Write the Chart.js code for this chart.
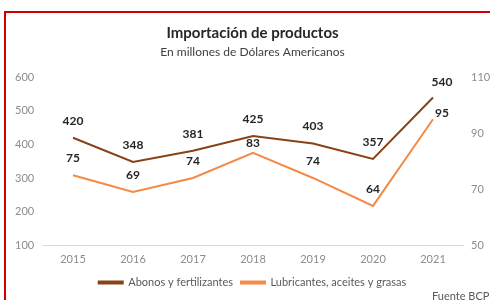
<!DOCTYPE html>
<html>
<head>
<meta charset="utf-8">
<script src="https://cdn.jsdelivr.net/npm/chart.js@4.4.0/dist/chart.umd.min.js"></script>
<style>
  body{margin:0;background:#fff;}
  #wrap{position:absolute;left:0;top:0;width:490px;height:300px;}
  #frame{position:absolute;left:4px;top:11px;width:500px;height:300px;border:2px solid #d00000;box-sizing:border-box;pointer-events:none;}
  #src{position:absolute;left:432px;top:289px;font:11px Lato,sans-serif;color:#595959;white-space:nowrap;}
</style>
</head>
<body>
<div id="wrap"><canvas id="myChart" width="490" height="300"></canvas></div>
<div id="frame"></div>
<div id="src">Fuente BCP</div>
<script>
var years=["2015","2016","2017","2018","2019","2020","2021"];
var abonos=[420,348,381,425,403,357,540];
var lubricantes=[75,69,74,83,74,64,95];
var leftTicks=[100,200,300,400,500,600];
var rightTicks=[50,70,90,110];

// etiquetas de valores encima de cada punto
var valueLabels={
    id:"valueLabels",
    afterDatasetsDraw:function(chart){
        var ctx=chart.ctx;
        ctx.save();
        ctx.font="bold 12px Lato, sans-serif";
        ctx.fillStyle="#262626";
        ctx.textAlign="center";
        ctx.textBaseline="middle";
        var last=years.length-1;
        chart.data.datasets.forEach(function(ds,i){
            var meta=chart.getDatasetMeta(i);
            meta.data.forEach(function(pt,j){
                var x=pt.x, y=pt.y-17;
                if(j==last){
                    x=pt.x+9;
                    y=(i==0)?pt.y-15:pt.y-6;
                }
                if(i==1 && j==3) y=pt.y-10; // 83 queda bajo la otra linea
                ctx.fillText(ds.data[j],x,y);
            });
        });
        ctx.restore();
    }
};

var ctx=document.getElementById("myChart").getContext("2d");
var chart=new Chart(ctx,{
    type:"line",
    data:{
        labels:years,
        datasets:[{
            label:"Abonos y fertilizantes",
            data:abonos,
            yAxisID:"y",
            borderColor:"#874316",
            backgroundColor:"#874316",
            borderWidth:2,
            pointRadius:0,
            tension:0
        },{
            label:"Lubricantes, aceites y grasas",
            data:lubricantes,
            yAxisID:"y1",
            borderColor:"#f48a45",
            backgroundColor:"#f48a45",
            borderWidth:2,
            pointRadius:0,
            tension:0
        }]
    },
    options:{
        responsive:false,
        animation:false,
        layout:{padding:{top:24,left:15,right:0,bottom:2}},
        plugins:{
            title:{
                display:true,
                text:"Importación de productos",
                color:"#262626",
                font:{family:"Lato",size:15,weight:"bold"},
                padding:{top:0,bottom:3}
            },
            subtitle:{
                display:true,
                text:"En millones de Dólares Americanos",
                color:"#404040",
                font:{family:"Lato",size:12},
                padding:{top:0,bottom:18}
            },
            legend:{
                position:"bottom",
                labels:{
                    boxWidth:24,
                    boxHeight:2,
                    color:"#595959",
                    font:{family:"Lato",size:11},
                    padding:8
                }
            },
            tooltip:{enabled:false}
        },
        scales:{
            x:{
                offset:true,
                afterFit:function(ax){ax.height=24;},
                grid:{display:false,tickLength:0},
                border:{display:true,color:"#d9d9d9"},
                ticks:{color:"#8c8c8c",font:{family:"Lato",size:11},padding:8}
            },
            y:{
                position:"left",
                min:100,max:600,
                afterBuildTicks:function(ax){ax.ticks=leftTicks.map(function(v){return {value:v};});},
                afterFit:function(ax){ax.width=28;},
                grid:{display:false},
                border:{display:false},
                ticks:{color:"#8c8c8c",font:{family:"Lato",size:11},padding:10,crossAlign:"far"}
            },
            y1:{
                position:"right",
                min:50,max:110,
                afterBuildTicks:function(ax){ax.ticks=rightTicks.map(function(v){return {value:v};});},
                afterFit:function(ax){ax.width=27;},
                grid:{display:false,tickLength:0},
                border:{display:false},
                ticks:{color:"#8c8c8c",font:{family:"Lato",size:11},padding:8}
            }
        }
    },
    plugins:[valueLabels]
});
</script>
</body>
</html>
